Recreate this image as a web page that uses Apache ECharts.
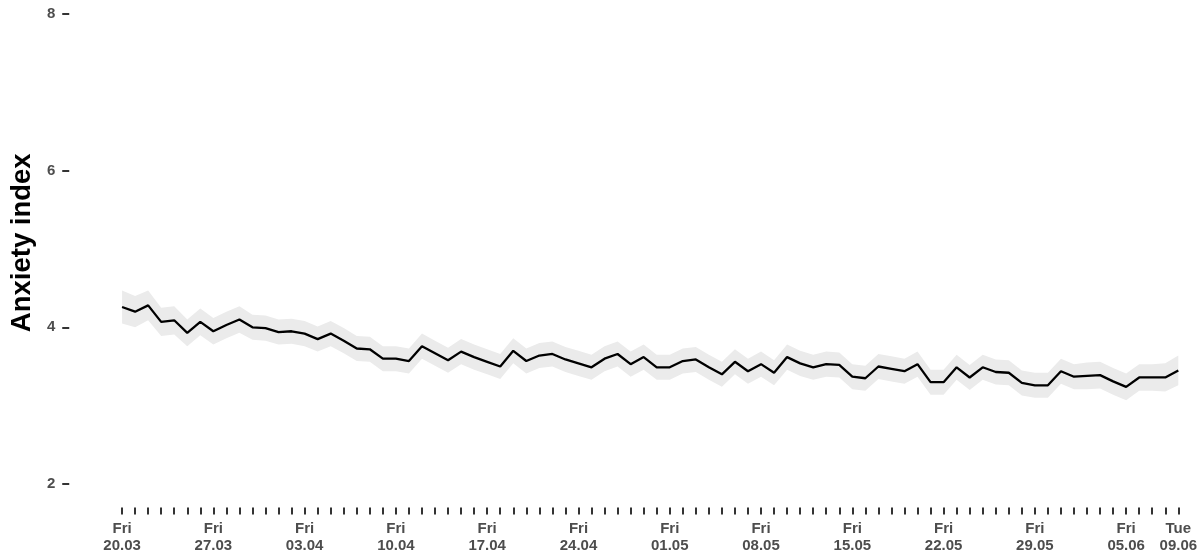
<!DOCTYPE html>
<html>
<head>
<meta charset="utf-8">
<script src="https://cdn.jsdelivr.net/npm/echarts@6/dist/echarts.min.js"></script>
<style>
html,body{margin:0;padding:0;background:#fff;}
#chart{width:1204px;height:556px;}
</style>
</head>
<body>
<div id="chart"></div>
<script>
// Day labels on the x axis (day index from Fri 20.03)
const labelDays = [0, 7, 14, 21, 28, 35, 42, 49, 56, 63, 70, 77, 81];
const dayLabels = ['Fri\n20.03','Fri\n27.03','Fri\n03.04','Fri\n10.04','Fri\n17.04','Fri\n24.04',
                   'Fri\n01.05','Fri\n08.05','Fri\n15.05','Fri\n22.05','Fri\n29.05','Fri\n05.06','Tue\n09.06'];
const yTicks = [2, 4, 6, 8];

// Daily anxiety index (20.03 – 09.06)
const anxiety = [
  4.26, 4.20, 4.28, 4.07, 4.09, 3.93, 4.07, 3.95, 4.03, 4.10,
  4.00, 3.99, 3.94, 3.95, 3.92, 3.85, 3.92, 3.83, 3.73, 3.72,
  3.60, 3.60, 3.57, 3.76, 3.67, 3.58, 3.69, 3.62, 3.56, 3.50,
  3.70, 3.57, 3.64, 3.66, 3.59, 3.54, 3.49, 3.60, 3.66, 3.53,
  3.62, 3.49, 3.49, 3.57, 3.59, 3.49, 3.40, 3.56, 3.44, 3.53,
  3.42, 3.62, 3.54, 3.49, 3.53, 3.52, 3.37, 3.35, 3.50, 3.47,
  3.44, 3.53, 3.30, 3.30, 3.49, 3.36, 3.49, 3.43, 3.42, 3.29,
  3.26, 3.26, 3.44, 3.37, 3.38, 3.39, 3.31, 3.24, 3.36, 3.36,
  3.36, 3.45
];
// Half-width of the confidence ribbon per day
const ciHalf = [
  0.21, 0.20, 0.19, 0.18, 0.18, 0.17, 0.17, 0.17, 0.17, 0.17,
  0.16, 0.16, 0.16, 0.16, 0.16, 0.16, 0.16, 0.16, 0.16, 0.16,
  0.16, 0.16, 0.16, 0.16, 0.16, 0.16, 0.16, 0.16, 0.16, 0.16,
  0.16, 0.16, 0.16, 0.16, 0.16, 0.16, 0.16, 0.16, 0.16, 0.16,
  0.16, 0.16, 0.16, 0.16, 0.16, 0.16, 0.16, 0.16, 0.16, 0.16,
  0.16, 0.16, 0.16, 0.16, 0.16, 0.16, 0.16, 0.16, 0.16, 0.16,
  0.16, 0.16, 0.16, 0.16, 0.16, 0.16, 0.16, 0.16, 0.16, 0.16,
  0.16, 0.16, 0.16, 0.16, 0.17, 0.17, 0.17, 0.17, 0.17, 0.17,
  0.18, 0.19
];

const days = anxiety.map((_, i) => i);
const lineData = anxiety.map((v, i) => [i, v]);
const upper = anxiety.map((v, i) => v + ciHalf[i]);
const lower = anxiety.map((v, i) => v - ciHalf[i]);

const chart = echarts.init(document.getElementById('chart'), null, {renderer: 'canvas'});
const font = '"Liberation Sans", Arial, sans-serif';

chart.setOption({
  backgroundColor: '#ffffff',
  animation: false,
  grid: {left: 66.6, right: 0, top: 0, bottom: 48.5, containLabel: false},
  xAxis: {
    type: 'value',
    min: -4.05,
    max: 82.97,
    axisLine: {show: false, onZero: false},
    splitLine: {show: false},
    axisTick: {show: true, length: 7, customValues: days, lineStyle: {color: '#333333', width: 2}},
    axisLabel: {
      show: true,
      customValues: labelDays,
      margin: 13,
      fontFamily: font,
      fontWeight: 'bold',
      fontSize: 15,
      lineHeight: 17,
      color: '#4d4d4d',
      formatter: function (v) {
        const k = labelDays.indexOf(Math.round(v));
        return k >= 0 ? dayLabels[k] : '';
      }
    }
  },
  yAxis: {
    type: 'value',
    min: 1.7,
    max: 8.179,
    name: 'Anxiety index',
    nameLocation: 'middle',
    nameGap: 32,
    nameTextStyle: {fontFamily: font, fontWeight: 'bold', fontSize: 27.5, color: '#000000', padding: [0, 0, 0, 22]},
    axisLine: {show: false, onZero: false},
    splitLine: {show: false},
    axisTick: {show: true, length: 7, customValues: yTicks, lineStyle: {color: '#333333', width: 2}},
    axisLabel: {
      show: true,
      customValues: yTicks,
      margin: 14,
      fontFamily: font,
      fontWeight: 'bold',
      fontSize: 15,
      color: '#4d4d4d'
    }
  },
  series: [
    {
      type: 'custom',
      name: 'ribbon',
      silent: true,
      data: [[0, anxiety[0]]],
      renderItem: function (params, api) {
        const pts = [];
        for (let i = 0; i < days.length; i++) pts.push(api.coord([days[i], upper[i]]));
        for (let i = days.length - 1; i >= 0; i--) pts.push(api.coord([days[i], lower[i]]));
        return {type: 'polygon', shape: {points: pts}, style: {fill: '#ebebeb', stroke: null}};
      },
      z: 1
    },
    {
      type: 'line',
      name: 'anxiety',
      data: lineData,
      showSymbol: false,
      symbol: 'none',
      lineStyle: {color: '#000000', width: 2.3},
      z: 2
    }
  ]
});
</script>
</body>
</html>
